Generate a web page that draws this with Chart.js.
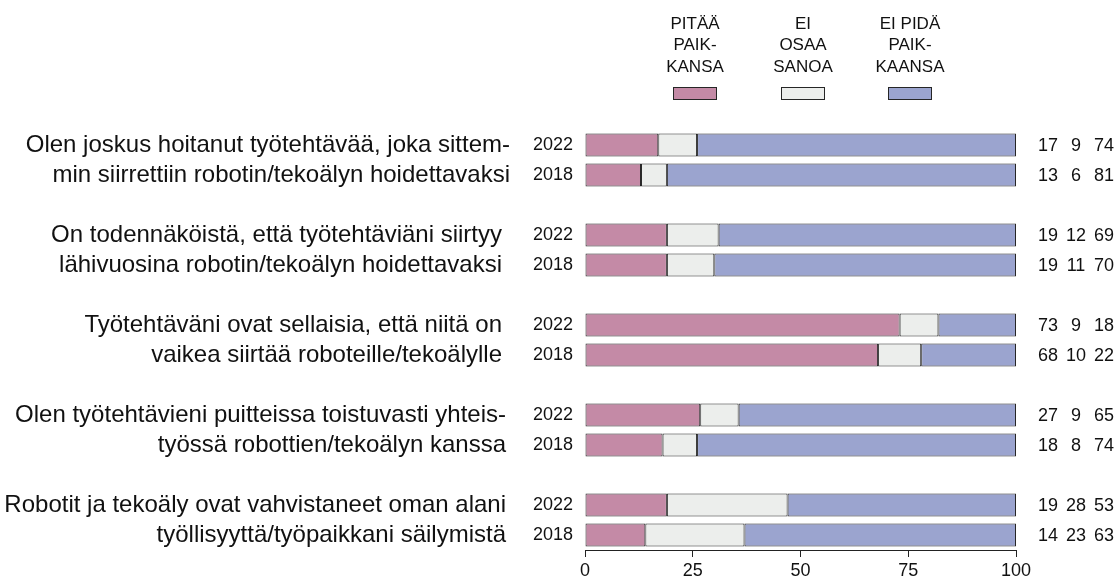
<!DOCTYPE html>
<html><head><meta charset="utf-8">
<script src="https://cdn.jsdelivr.net/npm/chart.js@4/dist/chart.umd.min.js"></script>
<style>html,body{margin:0;padding:0;background:#fff}#wrap{width:1120px;height:580px;position:relative}</style>
</head><body><div id="wrap"><canvas id="c" width="1120" height="580"></canvas></div>
<script>
const statements = [
  ["Olen joskus hoitanut työtehtävää, joka sittem-", "min siirrettiin robotin/tekoälyn hoidettavaksi"],
  ["On todennäköistä, että työtehtäviäni siirtyy", "lähivuosina robotin/tekoälyn hoidettavaksi"],
  ["Työtehtäväni ovat sellaisia, että niitä on", "vaikea siirtää roboteille/tekoälylle"],
  ["Olen työtehtävieni puitteissa toistuvasti yhteis-", "työssä robottien/tekoälyn kanssa"],
  ["Robotit ja tekoäly ovat vahvistaneet oman alani", "työllisyyttä/työpaikkani säilymistä"]
];
const years = ["2022", "2018"];
const pitaa  = [17, 13, 19, 19, 73, 68, 27, 18, 19, 14];
const eiOsaa = [ 9,  6, 12, 11,  9, 10,  9,  8, 28, 23];
const eiPida = [74, 81, 69, 70, 18, 22, 65, 74, 53, 63];
const xTicks = [0, 25, 50, 75, 100];
const seriesNames = [["PITÄÄ", "PAIK-", "KANSA"], ["EI", "OSAA", "SANOA"], ["EI PIDÄ", "PAIK-", "KAANSA"]];
const colors = ["#C48AA6", "#ECEEEC", "#9BA4CF"];

// build slot layout: two bars per statement with an empty slot between groups
const slotLabels = [];
const slotRow = [];
statements.forEach((s, g) => {
  years.forEach((y, k) => { slotLabels.push(y); slotRow.push(g * 2 + k); });
  if (g < statements.length - 1) { slotLabels.push(""); slotRow.push(null); }
});
const raw = [pitaa, eiOsaa, eiPida];
function share(series, r) {
  const tot = pitaa[r] + eiOsaa[r] + eiPida[r];
  return series[r] * 100 / tot;
}
const datasets = raw.map((series, i) => ({
  label: seriesNames[i].join(" "),
  data: slotRow.map(r => r === null ? null : share(series, r)),
  backgroundColor: colors[i],
  borderColor: "#262626",
  borderWidth: 1,
  borderSkipped: false,
  barPercentage: 0.77,
  categoryPercentage: 1.0
}));

const FONT = "'Liberation Sans', Arial, sans-serif";
const labelRight = [510, 502, 502, 506, 506];
const valueX = [1048, 1076, 1104];
const legendX = [695, 803, 910];

const textPlugin = {
  id: "texts",
  afterDraw(chart) {
    const ctx = chart.ctx;
    const ys = chart.scales.y;
    ctx.save();
    ctx.fillStyle = "#111";
    ctx.textBaseline = "middle";
    // statements
    ctx.font = "24px " + FONT;
    ctx.textAlign = "right";
    statements.forEach((lines, g) => {
      lines.forEach((ln, k) => {
        const y = ys.getPixelForValue(g * 3 + k);
        ctx.fillText(ln, labelRight[g], y);
      });
    });
    // values
    ctx.font = "18px " + FONT;
    ctx.textAlign = "center";
    slotRow.forEach((r, idx) => {
      if (r === null) return;
      const y = ys.getPixelForValue(idx);
      [pitaa[r], eiOsaa[r], eiPida[r]].forEach((v, j) => ctx.fillText(String(v), valueX[j], y + 1));
    });
    // legend
    ctx.font = "17px " + FONT;
    seriesNames.forEach((lines, i) => {
      lines.forEach((ln, k) => ctx.fillText(ln, legendX[i], 24 + k * 21.5));
      ctx.fillStyle = colors[i];
      ctx.fillRect(legendX[i] - 22, 87, 44, 13);
      ctx.strokeStyle = "#262626";
      ctx.lineWidth = 1;
      ctx.strokeRect(legendX[i] - 21.5, 87.5, 43, 12);
      ctx.fillStyle = "#111";
    });
    ctx.restore();
  }
};

new Chart(document.getElementById("c"), {
  type: "bar",
  data: { labels: slotLabels, datasets },
  options: {
    indexAxis: "y",
    responsive: false,
    animation: false,
    devicePixelRatio: 1,
    layout: { padding: { left: 0, right: 104, top: 130, bottom: 0 } },
    plugins: { legend: { display: false }, tooltip: { enabled: false } },
    scales: {
      x: {
        stacked: true,
        min: 0, max: 100,
        afterBuildTicks: s => { s.ticks = xTicks.map(v => ({ value: v })); },
        afterFit: s => { s.height = 30; },
        grid: { display: true, drawOnChartArea: false, drawTicks: true, tickLength: 7, color: "#222", lineWidth: 1 },
        border: { display: true, color: "#222", width: 1 },
        ticks: { font: { size: 18, family: FONT }, color: "#111", padding: 3, maxRotation: 0 }
      },
      y: {
        stacked: true,
        afterFit: s => { s.width = 585; },
        grid: { display: false, drawTicks: false },
        border: { display: false },
        ticks: { font: { size: 18, family: FONT }, color: "#111", padding: 12, autoSkip: false }
      }
    }
  },
  plugins: [textPlugin]
});
</script>
</body></html>
